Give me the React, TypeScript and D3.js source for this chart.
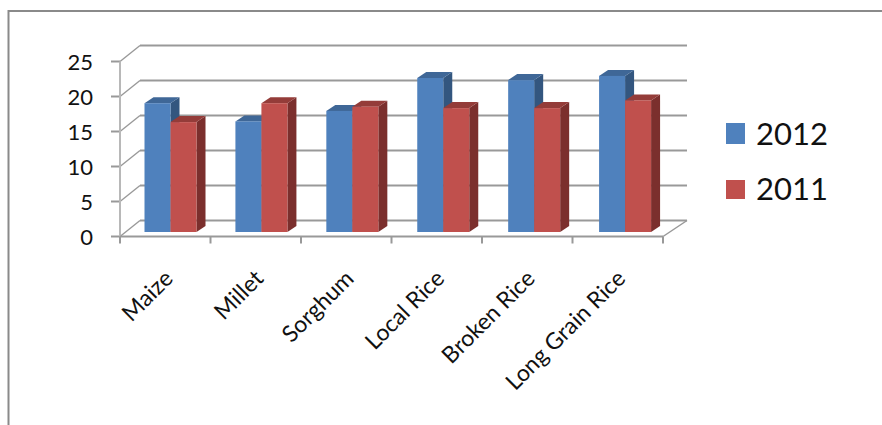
import React from "react";
import * as d3 from "d3";

const categories = ["Maize", "Millet", "Sorghum", "Local Rice", "Broken Rice", "Long Grain Rice"];
const values2012 = [18.4, 15.8, 17.3, 22.0, 21.7, 22.3];
const values2011 = [15.7, 18.4, 17.9, 17.7, 17.7, 18.8];
const yTicks = [0, 5, 10, 15, 20, 25];
const seriesNames = ["2012", "2011"];

const FRONT = "#4f81bd", RED = "#c0504d";
const BLUE_TOP = "#3f6797", BLUE_SIDE = "#33567f";
const RED_TOP = "#943c39", RED_SIDE = "#7b2f2d";
const GRID = "#999999";
const FONT = "Lato, 'Open Sans', sans-serif";

const x0 = 120, x1 = 663, dx = 24, dy = -16;
const y = d3.scaleLinear().domain([0, 25]).range([236.5, 61.5]);
const barY = d3.scaleLinear().domain([0, 25]).range([232, 57]);
const axisX = d3.scaleBand<string>().domain(categories).range([x0, x1]);
const groupX = d3.scaleBand<string>().domain(categories).range([120, 665.5]);
const barW = 26;
const barInset = 24.5;
const sideW = 9, sideH = 6;

function Bar({ x, v, front, top, side }: { x: number; v: number; front: string; top: string; side: string }) {
  const yt = barY(v), yb = barY(0);
  return (
    <g>
      <polygon points={`${x + barW},${yt} ${x + barW + sideW},${yt - sideH} ${x + barW + sideW},${yb - sideH} ${x + barW},${yb}`} fill={side} />
      <polygon points={`${x},${yt} ${x + sideW},${yt - sideH} ${x + barW + sideW},${yt - sideH} ${x + barW},${yt}`} fill={top} />
      <rect x={x} y={yt} width={barW} height={yb - yt} fill={front} />
    </g>
  );
}

export default function App() {
  return (
    <svg width={882} height={425} style={{ position: "absolute", left: 0, top: 0, background: "#fff" }}>
      <path d="M882,11 H8.5 V425" fill="none" stroke="#8a8a8a" strokeWidth={2} />

      {yTicks.map((t) => (
        <g key={t}>
          <line x1={x0 + dx - 4} x2={x1 + dx} y1={y(t) + dy} y2={y(t) + dy} stroke={GRID} strokeWidth={2} />
          <line x1={x0} x2={x0 + dx - 4} y1={y(t)} y2={y(t) + dy} stroke={GRID} strokeWidth={1.5} />
          <line x1={x0 - 9} x2={x0} y1={y(t)} y2={y(t)} stroke={GRID} strokeWidth={2} />
          <text x={93} y={y(t) + 8} fontFamily={FONT} fontSize={22} textAnchor="end" fill="#111">{t}</text>
        </g>
      ))}
      <line x1={x0} x2={x0} y1={y(25)} y2={y(0)} stroke="#b8b8b8" strokeWidth={2} />
      <line x1={x1} x2={x1 + dx} y1={y(0)} y2={y(0) + dy} stroke={GRID} strokeWidth={1.5} />
      <line x1={x0} x2={x1} y1={y(0)} y2={y(0)} stroke={GRID} strokeWidth={2} />
      {[...categories, ""].map((c, i) => {
        const tx = x0 + i * axisX.step();
        return <line key={i} x1={tx} x2={tx} y1={y(0)} y2={y(0) + 7} stroke={GRID} strokeWidth={2} />;
      })}

      {categories.map((c, i) => {
        const gx = groupX(c)! + barInset;
        return (
          <g key={c}>
            <Bar x={gx} v={values2012[i]} front={FRONT} top={BLUE_TOP} side={BLUE_SIDE} />
            <Bar x={gx + barW} v={values2011[i]} front={RED} top={RED_TOP} side={RED_SIDE} />
          </g>
        );
      })}

      {categories.map((c) => {
        const tx = axisX(c)! + axisX.bandwidth() / 2 + 9;
        return (
          <text key={c} transform={`translate(${tx},${280}) rotate(-45)`} fontFamily={FONT} fontSize={23} textAnchor="end" fill="#111">{c}</text>
        );
      })}

      {seriesNames.map((s, i) => {
        const ly = i === 0 ? 123 : 180;
        return (
          <g key={s}>
            <rect x={726} y={ly} width={19} height={i === 0 ? 21 : 19} fill={i === 0 ? FRONT : RED} />
            <text x={756} y={ly + (i === 0 ? 22 : 20)} fontFamily={FONT} fontSize={31} fill="#111">{s}</text>
          </g>
        );
      })}
    </svg>
  );
}
